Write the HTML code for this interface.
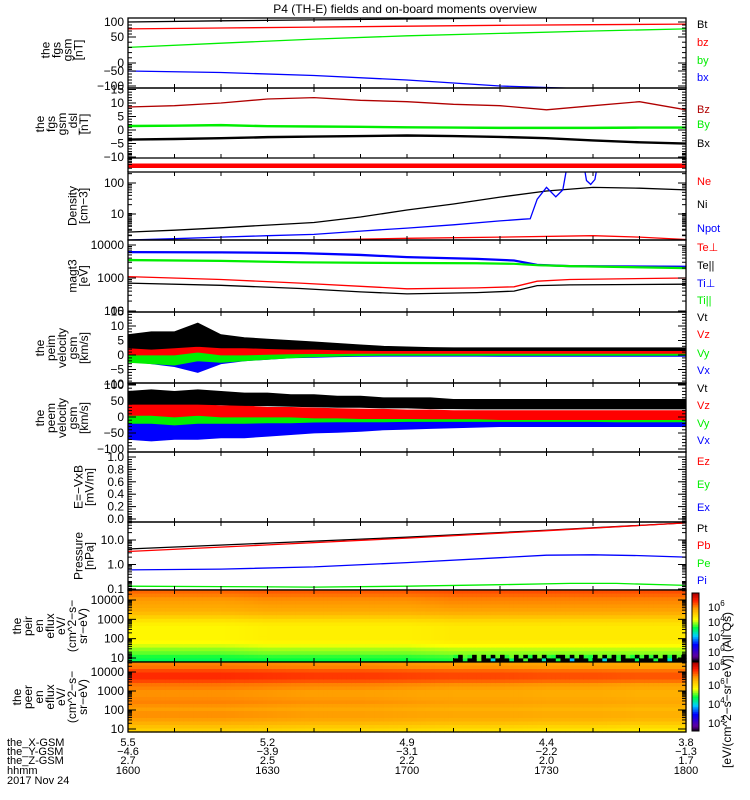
<!DOCTYPE html>
<html><head><meta charset="utf-8"><style>
html,body{margin:0;padding:0;background:#fff;}
svg{display:block;font-family:"Liberation Sans",sans-serif;}
</style></head><body>
<svg id="chart" xmlns="http://www.w3.org/2000/svg" width="750" height="800" viewBox="0 0 750 800">
<text x="405" y="13" font-size="12" text-anchor="middle">P4 (TH-E) fields and on-board moments overview</text>
<g id="layer"></g>
</svg>
<script>
// ---------- data ----------
const timeLabels = ["1600","1630","1700","1730","1800"];
const xGsm = ["5.5","5.2","4.9","4.4","3.8"];
const yGsm = ["-4.6","-3.9","-3.1","-2.2","-1.3"];
const zGsm = ["2.7","2.5","2.2","2.0","1.7"];
const t7 = [0,20,40,60,80,100,120];
const fgsBt = [100,104,107,110,113,116,118];
const fgsBz = [77,80,83,86,89,91,93];
const fgsBy = [30,38,46,54,62,70,77];
const fgsBx = [-50,-55,-65,-80,-100,-110,-115];
const t13 = [0,10,20,30,40,50,60,70,80,90,100,110,120];
const dslBz = [8.5,9,10,11.5,12,11,10.5,9.5,9,7.5,9,10.5,7.5];
const dslBy = [1.5,1.6,1.8,1.4,1.3,1.2,1.0,0.9,0.8,0.8,0.8,0.9,0.9];
const dslBx = [-3.5,-3.3,-3,-2.6,-2.4,-2.2,-2.0,-2.2,-2.5,-3,-3.8,-4.5,-5];
const densNi = [2.6,3.0,3.6,4.4,5.3,8,13.5,21,35,55,72,68,60];
const npotT = [0,10,20,30,40,50,60,70,80,85,86.5,88,90,92,93.5,94.5,98,98.6,99.5,100.4,101,120];
const npotV = [1.45,1.6,1.8,2.0,2.2,2.8,3.5,4.5,6,6.8,7,30,72,36,60,400,400,120,90,130,400,400];
const neT = [0,20,40,60,80,100,110,120];
const neV = [1.3,1.35,1.45,1.65,1.8,2.0,1.8,1.5];
const tempT = [0,20,37,50,60,75,83,88,95,120];
const tiPerp = [6100,6000,5700,5000,4300,3800,3400,2500,2300,2200];
const tiPar = [3500,3300,3000,2900,2850,2800,2700,2450,2300,2000];
const tePerp = [1100,900,700,560,470,500,540,800,900,1000];
const tePar = [700,600,480,380,330,360,400,590,620,650];
const t25 = [0,5,10,15,20,25,30,35,40,45,50,55,60,65,70,75,80,85,90,95,100,105,110,115,120];
const peimVtHi = [7,8,8,11,7,6,5.5,5,4.5,4,3.5,3,2.8,2.6,2.5,2.5,2.5,2.5,2.5,2.5,2.5,2.5,2.5,2.5,2.5];
const peimVtLo = [2.5,2,2.5,3,2.5,2.5,2.2,2,2,1.8,1.6,1.5,1.5,1.5,1.5,1.5,1.5,1.5,1.5,1.5,1.5,1.5,1.5,1.5,1.5];
const peimVzHi = [4,4,4,6,3.5,3,2.5,2.2,2,1.8,1.6,1.5,1.4,1.3,1.3,1.3,1.3,1.3,1.3,1.3,1.3,1.3,1.3,1.3,1.3];
const peimVzLo = [0,0,0,1,0,0,0.2,0.4,0.5,0.5,0.6,0.6,0.6,0.6,0.6,0.6,0.6,0.6,0.6,0.6,0.6,0.6,0.6,0.6,0.6];
const peimVyHi = [2,2,2,4,1.5,1.5,1,1,0.8,0.8,0.7,0.7,0.7,0.7,0.7,0.7,0.7,0.7,0.7,0.7,0.7,0.7,0.7,0.7,0.7];
const peimVyLo = [-2.5,-3,-3.5,-2,-2.5,-2,-1.5,-1,-0.6,-0.4,-0.2,-0.1,-0.1,-0.1,-0.1,-0.1,-0.1,-0.1,-0.1,-0.1,-0.1,-0.1,-0.1,-0.1,-0.1];
const peimVxHi = [2,2,2,4,1.5,1.2,1,0.8,0.6,0.5,0.4,0.3,0.3,0.3,0.3,0.3,0.3,0.3,0.3,0.3,0.3,0.3,0.3,0.3,0.3];
const peimVxLo = [-2,-3,-4,-6,-3,-2,-1.5,-1,-0.8,-0.6,-0.5,-0.4,-0.4,-0.4,-0.4,-0.4,-0.5,-0.5,-0.5,-0.5,-0.5,-0.5,-0.5,-0.5,-0.5];
const peemVtHi = [80,85,80,85,80,75,75,70,70,65,65,60,60,60,55,55,55,55,55,55,55,55,55,55,55];
const peemVtLo = [40,40,40,40,38,36,35,33,32,30,30,28,28,26,26,25,25,25,25,25,25,25,25,25,25];
const peemVzHi = [40,40,40,40,35,35,30,30,28,26,25,24,22,22,20,20,20,20,20,20,20,20,20,20,20];
const peemVzLo = [5,5,0,5,0,0,0,0,-3,-3,-5,-5,-5,-6,-6,-6,-8,-8,-8,-8,-8,-8,-8,-8,-8];
const peemVyHi = [20,20,20,20,18,18,18,16,15,14,14,12,12,12,10,10,10,10,10,10,10,10,10,10,10];
const peemVyLo = [-20,-20,-25,-20,-20,-20,-18,-18,-16,-15,-15,-15,-14,-14,-14,-14,-14,-14,-14,-14,-14,-15,-15,-15,-15];
const peemVxHi = [-10,-10,-10,-10,-10,-10,-10,-8,-8,-8,-5,-5,-5,-5,-5,-5,0,0,0,0,0,0,0,0,0];
const peemVxLo = [-70,-75,-70,-70,-65,-65,-60,-55,-50,-48,-45,-40,-38,-36,-34,-32,-30,-30,-30,-30,-30,-30,-30,-30,-30];
const presT5 = [0,30,60,90,120];
const presPt = [4.3,7.5,13,25,50];
const presPb = [3.4,6.3,12,24,50];
const piT = [0,20,40,60,80,90,100,110,120];
const presPi = [0.6,0.65,0.8,1.2,1.9,2.4,2.5,2.3,2.0];
const peT = [0,20,40,60,80,95,105,120];
const presPe = [0.13,0.125,0.12,0.13,0.15,0.17,0.17,0.14];
const peirProfile = [6.4,6.2,6.0,5.9,5.8,5.7,5.5,5.2,4.9,4.7,4.6,4.6,4.6,4.6,4.5,4.3,4.0,3.8,3.5,3.3];
const peirTrend = [0,0,0,0.1,0.1,0.1,0.1,0.2,0.2,0.2,0.2,0.2,0.2];
const peirNoiseA = [-1,-1,3.5,-1,-1,3.8,-1,-1,2.5,-1,-1,-1,3.2,-1,-1,3.7,-1,-1,-1,2.8,-1,-1,3.5,-1,-1,2.2,-1,-1,-1,3.4,-1,-1,2.5,-1,-1,3.6,-1,-1,-1,3.3,-1,-1,-1,3.5,-1,-1,2.6,-1,-1,-1];
const peirNoiseB = [3.5,-1,3.8,3.6,-1,3.9,-1,3.7,-1,3.8,-1,3.6,3.9,-1,3.8,-1,3.5,-1,3.9,-1,3.6,3.5,-1,-1,3.7,-1,3.8,-1,3.6,3.5,-1,3.9,-1,3.7,-1,3.6,-1,3.8,3.5,-1,3.7,-1,3.6,-1,3.9,-1,3.5,-1,3.8,-1];
const peerProfile = [7.0,7.1,7.4,7.6,7.6,7.4,7.1,7.0,6.9,6.9,6.95,7.0,6.9,6.8,6.9,6.9,6.8,6.6,6.4,6.2];
const peerTrend = [0,0,0,-0.05,-0.1,-0.1,-0.15,-0.2,-0.2,-0.25,-0.25,-0.3,-0.3];

// ---------- helpers ----------
const NS="http://www.w3.org/2000/svg";
const layer=document.getElementById('layer');
const XL=128, XR=686;
function X(t){return XL+t*(XR-XL)/120;}
function lin(v0,y0,v1,y1){return v=>y0+(v-v0)*(y1-y0)/(v1-v0);}
function logS(v0,y0,v1,y1){const a=Math.log10(v0),b=Math.log10(v1);return v=>y0+(Math.log10(v)-a)*(y1-y0)/(b-a);}
function pw(vals,ys){return v=>{for(let i=0;i<vals.length-1;i++){const a=vals[i],b=vals[i+1];if((v<=a&&v>=b)||i===vals.length-2||(i===0&&v>a)){return ys[i]+(v-a)*(ys[i+1]-ys[i])/(b-a);}}return ys[0];};}
function interp(ts,vs,t){if(t<=ts[0])return vs[0];for(let i=0;i<ts.length-1;i++){if(t<=ts[i+1]){const f=(t-ts[i])/(ts[i+1]-ts[i]);return vs[i]+f*(vs[i+1]-vs[i]);}}return vs[vs.length-1];}
function el(tag,attrs,parent){const e=document.createElementNS(NS,tag);for(const k in attrs)e.setAttribute(k,attrs[k]);(parent||layer).appendChild(e);return e;}
let clipN=0;
function clipFor(y0,y1){const id='c'+(clipN++);const cp=el('clipPath',{id:id});el('rect',{x:XL,y:y0,width:XR-XL,height:y1-y0},cp);return 'url(#'+id+')';}
function line(ts,vs,sc,color,name,clip,w){const g=el('g',{'clip-path':clip});
  const p=el('polyline',{points:ts.map((t,i)=>X(t).toFixed(1)+','+sc(vs[i]).toFixed(1)).join(' '),fill:'none',stroke:color,'stroke-width':w||1.3},g);
  
  }
function band(ts,hi,lo,sc,color,name,clip){const g=el('g',{'clip-path':clip});
  const pts=ts.map((t,i)=>X(t).toFixed(1)+','+sc(hi[i]).toFixed(1)).concat(ts.slice().reverse().map((t,j)=>{const i=ts.length-1-j;return X(t).toFixed(1)+','+sc(lo[i]).toFixed(1);}));
  const p=el('polygon',{points:pts.join(' '),fill:color,stroke:color,'stroke-width':0.8},g);
  
  }
function frame(y0,y1,name){const r=el('rect',{x:XL,y:y0,width:XR-XL,height:y1-y0,fill:'none',stroke:'#000','stroke-width':1.3});
  
  
  for(let k=0;k<=12;k++){const x=XL+k*(XR-XL)/12;el('line',{x1:x,y1:y0,x2:x,y2:y0+4,stroke:'#000'});el('line',{x1:x,y1:y1,x2:x,y2:y1-4,stroke:'#000'});}}
function ytick(y,len){el('line',{x1:XL,y1:y,x2:XL+len,y2:y,stroke:'#000'});el('line',{x1:XR,y1:y,x2:XR-len,y2:y,stroke:'#000'});}
function ylabel(y,txt,name){const t=el('text',{x:XL-4,y:y+4,'font-size':12,'text-anchor':'end'});t.textContent=txt;
  
  }
function linTicks(sc,vals,minorStep,vmin,vmax,pname){vals.forEach(v=>{ytick(sc(v),8);ylabel(sc(v),String(v).replace('-','\u2212'),pname+'-tick-'+v);});
  for(let v=vmin;v<=vmax+1e-9;v+=minorStep)ytick(sc(v),4);}
function logTicks(sc,decs,lo,hi,pname,fmt){for(let d=lo;d<=hi;d++){for(let m=1;m<10;m++){const v=m*Math.pow(10,d);const y=sc(v);if(y<0)continue;ytick(y,m===1?8:4);}}
  decs.forEach(v=>ylabel(sc(v),fmt?fmt(v):String(v),pname+'-tick-'+v));}
function sideTitle(lines,cx,cy,name){const g=el('g',{transform:'translate('+cx+','+cy+') rotate(-90)'});
  
  
  const n=lines.length;lines.forEach((s,i)=>{const t=el('text',{x:0,y:(i-(n-1)/2)*11+4,'font-size':12,'text-anchor':'middle'},g);t.textContent=s;});}
function rlabel(y,txt,color,name){const t=el('text',{x:697,y:y+4,'font-size':11,fill:color});t.textContent=txt;
  
  }

// panel 1
(function(){const y0=18,y1=88;const sc=pw([100,50,0,-50,-100],[22,37,63,71,86]);const cl=clipFor(y0,y1);
  line(t7,fgsBt,sc,'#000','fgs-bt-line',cl);line(t7,fgsBz,sc,'#ff0000','fgs-bz-line',cl);
  line(t7,fgsBy,sc,'#00ee00','fgs-by-line',cl);line(t7,fgsBx,sc,'#0000ff','fgs-bx-line',cl);
  frame(y0,y1,'fgs-gsm-panel');[100,50,0,-50,-100].forEach(v=>{ytick(sc(v),8);ylabel(sc(v),String(v).replace('-','\u2212'),'fgs-gsm-tick-'+v);});
  [90,80,70,60,40,30,20,10,-10,-20,-30,-40,-60,-70,-80,-90].forEach(v=>ytick(sc(v),4));
  sideTitle(['the','fgs','gsm','[nT]'],62,50,'fgs-gsm-y-title');
  rlabel(24,'Bt','#000','legend-bt');rlabel(42,'bz','#ff0000','legend-bz');rlabel(60,'by','#00ee00','legend-by');rlabel(77,'bx','#0000ff','legend-bx');})();
// panel 2
(function(){const y0=88,y1=158;const sc=lin(0,130,10,103);const cl=clipFor(y0,y1);
  line(t13,dslBz,sc,'#b00000','dsl-bz-line',cl);
  band(t13,dslBy.map(v=>v+0.3),dslBy.map(v=>v-0.3),sc,'#00ee00','dsl-by-band',cl);
  band(t13,dslBx.map(v=>v+0.25),dslBx.map(v=>v-0.35),sc,'#000','dsl-bx-band',cl);
  frame(y0,y1,'fgs-dsl-panel');linTicks(sc,[15,10,5,0,-5,-10],1,-12,15,'fgs-dsl');
  sideTitle(['the','fgs','gsm','_dsl','[nT]'],62,124,'fgs-dsl-y-title');
  rlabel(109,'Bz','#b00000','legend-dsl-bz');rlabel(124,'By','#00ee00','legend-dsl-by');rlabel(143,'Bx','#000','legend-dsl-bx');})();
// red bar
(function(){const r=el('rect',{x:XL,y:163.5,width:XR-XL,height:4.5,fill:'#ff0000'});
  
  
  el('line',{x1:XL,y1:158,x2:XL,y2:172,stroke:'#000','stroke-width':1.3});el('line',{x1:XR,y1:158,x2:XR,y2:172,stroke:'#000','stroke-width':1.3});})();
// density
(function(){const y0=172,y1=240;const sc=logS(10,214,100,183);const cl=clipFor(y0,y1);
  line(t13,densNi,sc,'#000','density-ni-line',cl);line(npotT,npotV,sc,'#0000ff','density-npot-line',cl);line(neT,neV,sc,'#ff0000','density-ne-line',cl);
  frame(y0,y1,'density-panel');logTicks(sc,[100,10],0,2,'density');
  sideTitle(['Density','[cm\u22123]'],78,206,'density-y-title');
  rlabel(181,'Ne','#ff0000','legend-ne');rlabel(204,'Ni','#000','legend-ni');rlabel(228,'Npot','#0000ff','legend-npot');})();
// temperature
(function(){const y0=240,y1=312;const sc=logS(1000,278,10000,245);const cl=clipFor(y0,y1);
  band(tempT,tiPerp.map(v=>v*1.05),tiPerp.map(v=>v*0.95),sc,'#0000ff','temp-ti-perp-band',cl);
  band(tempT,tiPar.map(v=>v*1.05),tiPar.map(v=>v*0.95),sc,'#00ee00','temp-ti-par-band',cl);
  line(tempT,tePerp,sc,'#ff0000','temp-te-perp-line',cl);line(tempT,tePar,sc,'#000','temp-te-par-line',cl);
  frame(y0,y1,'temperature-panel');logTicks(sc,[10000,1000,100],2,4,'temperature');
  sideTitle(['magt3','[eV]'],78,276,'temperature-y-title');
  rlabel(247,'Te\u22a5','#ff0000','legend-te-perp');rlabel(265,'Te||','#000','legend-te-par');rlabel(283,'Ti\u22a5','#0000ff','legend-ti-perp');rlabel(300,'Ti||','#00ee00','legend-ti-par');})();
// peim
(function(){const y0=312,y1=383;const sc=lin(0,355,10,326);const cl=clipFor(y0,y1);
  band(t25,peimVxHi,peimVxLo,sc,'#0000ff','peim-vx-band',cl);band(t25,peimVyHi,peimVyLo,sc,'#00ee00','peim-vy-band',cl);
  band(t25,peimVzHi,peimVzLo,sc,'#ff0000','peim-vz-band',cl);band(t25,peimVtHi,peimVtLo,sc,'#000','peim-vt-band',cl);
  frame(y0,y1,'peim-velocity-panel');linTicks(sc,[15,10,5,0,-5,-10],1,-10,15,'peim');
  sideTitle(['the','peim','velocity','gsm','[km/s]'],62,348,'peim-y-title');
  rlabel(317,'Vt','#000','legend-peim-vt');rlabel(334,'Vz','#ff0000','legend-peim-vz');rlabel(353,'Vy','#00ee00','legend-peim-vy');rlabel(370,'Vx','#0000ff','legend-peim-vx');})();
// peem
(function(){const y0=383,y1=452;const sc=lin(0,417,100,385);const cl=clipFor(y0,y1);
  band(t25,peemVxHi,peemVxLo,sc,'#0000ff','peem-vx-band',cl);band(t25,peemVyHi,peemVyLo,sc,'#00ee00','peem-vy-band',cl);
  band(t25,peemVzHi,peemVzLo,sc,'#ff0000','peem-vz-band',cl);band(t25,peemVtHi,peemVtLo,sc,'#000','peem-vt-band',cl);
  frame(y0,y1,'peem-velocity-panel');linTicks(sc,[100,50,0,-50,-100],10,-100,100,'peem');
  sideTitle(['the','peem','velocity','gsm','[km/s]'],62,418,'peem-y-title');
  rlabel(388,'Vt','#000','legend-peem-vt');rlabel(405,'Vz','#ff0000','legend-peem-vz');rlabel(423,'Vy','#00ee00','legend-peem-vy');rlabel(440,'Vx','#0000ff','legend-peem-vx');})();
// E field
(function(){const y0=452,y1=522;const sc=lin(0,519,1,457);
  frame(y0,y1,'efield-panel');[1.0,0.8,0.6,0.4,0.2,0.0].forEach(v=>{ytick(sc(v),8);ylabel(sc(v),v.toFixed(1),'efield-tick-'+v);});
  for(let v=-0.04;v<1.0;v+=0.04)ytick(sc(v),4);
  sideTitle(['E=\u2212VxB','[mV/m]'],84,487,'efield-y-title');
  rlabel(461,'Ez','#ff0000','legend-ez');rlabel(484,'Ey','#00ee00','legend-ey');rlabel(507,'Ex','#0000ff','legend-ex');})();
// pressure
(function(){const y0=522,y1=590;const sc=logS(1,564.5,10,540);const cl=clipFor(y0,y1);
  line(presT5,presPt,sc,'#000','pressure-pt-line',cl);line(presT5,presPb,sc,'#ff0000','pressure-pb-line',cl);
  line(piT,presPi,sc,'#0000ff','pressure-pi-line',cl);line(peT,presPe,sc,'#00ee00','pressure-pe-line',cl);
  frame(y0,y1,'pressure-panel');logTicks(sc,[10,1,0.1],-1,1,'pressure',v=>v.toFixed(1));
  sideTitle(['Pressure','[nPa]'],84,556,'pressure-y-title');
  rlabel(528,'Pt','#000','legend-pt');rlabel(545,'Pb','#ff0000','legend-pb');rlabel(563,'Pe','#00ee00','legend-pe');rlabel(580,'Pi','#0000ff','legend-pi');})();
// spectrograms
const cstops=[[0,[0,0,0]],[0.08,[96,0,160]],[0.25,[0,0,255]],[0.38,[0,208,255]],[0.5,[0,255,64]],[0.62,[255,255,0]],[0.78,[255,160,0]],[0.9,[255,32,0]],[1,[176,0,0]]];
function cmap(f){f=Math.max(0,Math.min(1,f));for(let i=0;i<cstops.length-1;i++){const a=cstops[i],b=cstops[i+1];if(f<=b[0]){const u=(f-a[0])/(b[0]-a[0]);const c=a[1].map((v,k)=>Math.round(v+u*(b[1][k]-v)));return 'rgb('+c.join(',')+')';}}return 'rgb(176,0,0)';}
function spectro(y0,y1,prof,trend,rng,name,noise){const g=el('g',{});
  const nE=prof.length,nT=120,h=(y1-y0)/nE,w=(XR-XL)/nT;
  for(let c=0;c<nT;c++){const t=c+0.5;const tr=interp(t13,trend,t);
    for(let e=0;e<nE;e++){let v=prof[e]+tr;
      if(noise&&t>70){const k=Math.floor(t-70);if(e===nE-1&&noise[0][k]!==undefined)v=noise[0][k];if(e===nE-2&&noise[1][k]!==undefined)v=noise[1][k];}
      el('rect',{x:(XL+c*w).toFixed(2),y:(y0+e*h).toFixed(2),width:(w+0.6).toFixed(2),height:(h+0.6).toFixed(2),fill:v<0?'#000':cmap((v-rng[0])/(rng[1]-rng[0]))},g);}}}
function colorbar(y0,y1,name,labels,sc){const g=el('g',{});
  const n=40;for(let i=0;i<n;i++){el('rect',{x:692,y:y0+i*(y1-y0)/n,width:7,height:(y1-y0)/n+0.5,fill:cmap(1-i/n)},g);}
  el('rect',{x:692,y:y0,width:7,height:y1-y0,fill:'none',stroke:'#000'},g);
  labels.forEach(p=>{const t=el('text',{x:708,y:sc(p)+4,'font-size':11},g);t.textContent='10';const s=el('tspan',{dy:-5,'font-size':8},t);s.textContent=String(p);});}
(function(){const y0=590,y1=662;spectro(y0,y1,peirProfile,peirTrend,[-1.1,7.9],'peir-spectrogram',[peirNoiseA,peirNoiseB]);
  const sc=logS(10,658,10000,600);frame(y0,y1,'peir-panel');logTicks(sc,[10000,1000,100,10],1,4,'peir');
  sideTitle(['the','peir','en','eflux','eV/','(cm^2\u2212s\u2212','sr\u2212eV)'],50,626,'peir-y-title');
  colorbar(593,661,'peir-colorbar',[6,4,2,0],p=>607-(p-6)*7.5);})();
(function(){const y0=662,y1=732;spectro(y0,y1,peerProfile,peerTrend,[1.1,8.4],'peer-spectrogram',null);
  const sc=logS(10,729,10000,672);frame(y0,y1,'peer-panel');logTicks(sc,[10000,1000,100,10],1,4,'peer');
  sideTitle(['the','peer','en','eflux','eV/','(cm^2\u2212s\u2212','sr\u2212eV)'],50,697,'peer-y-title');
  colorbar(662,731,'peer-colorbar',[8,6,4,2],p=>666+(8-p)*9.5);})();
(function(){const g=el('g',{transform:'translate(731,690) rotate(-90)'});
  
  
  const t=el('text',{x:0,y:0,'font-size':12,'text-anchor':'middle'},g);t.textContent='[eV/(cm^2\u2212s\u2212sr\u2212eV)]   (All Qs)';})();
// bottom annotations
(function(){const rows=[['the_X-GSM',xGsm,746],['the_Y-GSM',yGsm,755],['the_Z-GSM',zGsm,764],['hhmm',timeLabels,774]];
  rows.forEach((r,ri)=>{const t=el('text',{x:7,y:r[2],'font-size':11});t.textContent=r[0];
    
    
    r[1].forEach((v,i)=>{const tt=el('text',{x:XL+i*(XR-XL)/4,y:r[2],'font-size':11,'text-anchor':'middle'});tt.textContent=v.replace('-','\u2212');
      
      });});
  const d=el('text',{x:7,y:784,'font-size':11});d.textContent='2017 Nov 24';
  
  })();
</script>
</body></html>
